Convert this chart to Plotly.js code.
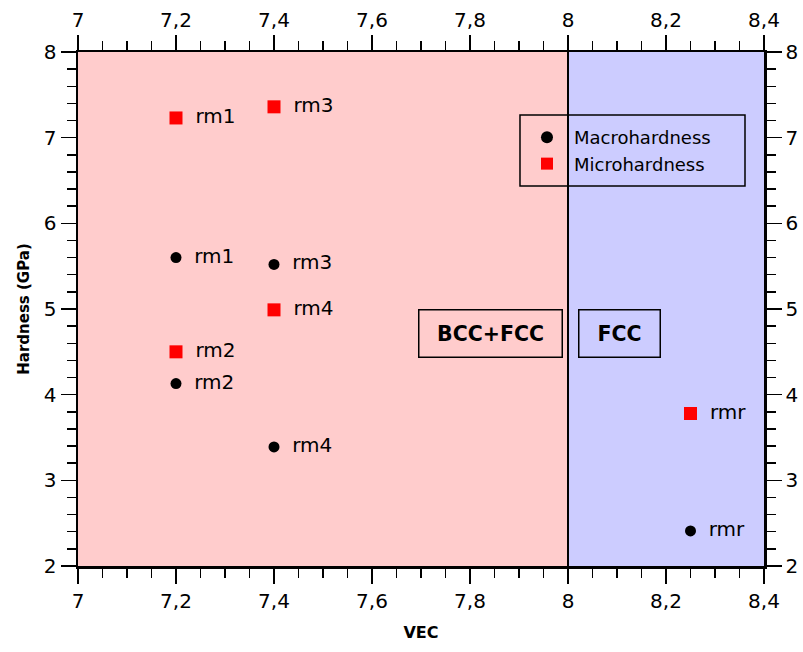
<!DOCTYPE html>
<html>
<head>
<meta charset="utf-8">
<script src="https://cdn.plot.ly/plotly-3.0.1.min.js"></script>
<style>body{margin:0;background:#fff;} #chart{width:803px;height:652px;}</style>
</head>
<body>
<div id="chart"></div>
<script>
const macroVEC = [7.2, 7.2, 7.4, 7.4, 8.25];
const macroHardness = [5.6, 4.13, 5.52, 3.39, 2.41];
const macroLabels = ["rm1", "rm2", "rm3", "rm4", "rmr"];

const microVEC = [7.2, 7.2, 7.4, 7.4, 8.25];
const microHardness = [7.23, 4.5, 7.36, 4.99, 3.78];
const microLabels = ["rm1", "rm2", "rm3", "rm4", "rmr"];

const xTickVals = [7, 7.2, 7.4, 7.6, 7.8, 8, 8.2, 8.4];
const yTickVals = [2, 3, 4, 5, 6, 7, 8];

const FONT = "DejaVu Sans, Verdana, sans-serif";
const NB = "\u00A0";
const TS = "\u2009";

const traces = [
  {
    x: macroVEC, y: macroHardness, text: macroLabels,
    type: "scatter", mode: "markers+text", name: "Macrohardness",
    marker: {symbol: "circle", size: 11, color: "#000"},
    texttemplate: NB + TS + "%{text}",
    textposition: "middle right",
    textfont: {family: FONT, size: 20, color: "#000"},
    cliponaxis: false
  },
  {
    x: microVEC, y: microHardness, text: microLabels,
    type: "scatter", mode: "markers+text", name: "Microhardness",
    marker: {symbol: "square", size: 13, color: "#ff0000"},
    texttemplate: NB + TS + "%{text}",
    textposition: "middle right",
    textfont: {family: FONT, size: 20, color: "#000"},
    cliponaxis: false
  },
  {x: [7], y: [2], xaxis: "x2", yaxis: "y2", mode: "markers", marker: {opacity: 0}, showlegend: false, hoverinfo: "skip"}
];

const axisCommon = {
  showgrid: false, zeroline: false, showline: true, linecolor: "#000", linewidth: 2.5,
  ticks: "outside", ticklen: 15, tickwidth: 1.5, tickcolor: "#000",
  tickfont: {family: FONT, size: 20, color: "#000"}
};
const minorX = {dtick: 0.05, ticks: "outside", ticklen: 9, tickwidth: 1.5, tickcolor: "#000", showgrid: false};
const minorY = {dtick: 0.2, ticks: "outside", ticklen: 9, tickwidth: 1.5, tickcolor: "#000", showgrid: false};

const layout = {
  width: 803, height: 652,
  margin: {l: 78, r: 39, t: 52, b: 86},
  paper_bgcolor: "#fff", plot_bgcolor: "#fff",
  separators: ",.",
  showlegend: true,
  legend: {
    x: 0.6443, y: 0.8696, xanchor: "left", yanchor: "top",
    bgcolor: "rgba(0,0,0,0)", borderwidth: 0,
    font: {family: FONT, size: 18, color: "#000"},
    tracegroupgap: 0, itemsizing: "constant", itemwidth: 44
  },
  xaxis: Object.assign({}, axisCommon, {
    range: [7, 8.4], tickvals: xTickVals, minor: minorX,
    title: {text: "VEC", font: {family: FONT, size: 16, color: "#000", weight: "bold"}, standoff: 16}
  }),
  yaxis: Object.assign({}, axisCommon, {
    range: [2, 8], tickvals: yTickVals, minor: minorY,
    title: {text: "Hardness (GPa)", font: {family: FONT, size: 15, color: "#000", weight: "bold"}, standoff: 11}
  }),
  xaxis2: Object.assign({}, axisCommon, {
    range: [7, 8.4], tickvals: xTickVals, overlaying: "x", side: "top", minor: minorX
  }),
  yaxis2: Object.assign({}, axisCommon, {
    range: [2, 8], tickvals: yTickVals, overlaying: "y", side: "right", minor: minorY
  }),
  shapes: [
    {type: "rect", xref: "x", yref: "y", x0: 7, x1: 8, y0: 2, y1: 8, fillcolor: "#ffcccc", line: {width: 0}, layer: "below"},
    {type: "rect", xref: "x", yref: "y", x0: 8, x1: 8.4, y0: 2, y1: 8, fillcolor: "#ccccff", line: {width: 0}, layer: "below"},
    {type: "line", xref: "x", yref: "y", x0: 8, x1: 8, y0: 2, y1: 8, line: {color: "#000", width: 2}, layer: "below"},
    {type: "rect", xref: "paper", yref: "paper", x0: 0.6443, x1: 0.9723, y0: 0.7393, y1: 0.8774,
     fillcolor: "rgba(0,0,0,0)", line: {color: "#000", width: 1.5}, layer: "above"}
  ],
  annotations: [
    {xref: "x", yref: "y", x: 7.841, y: 4.71, text: "<b>BCC+FCC</b>", showarrow: false,
     font: {family: FONT, size: 20.5, color: "#000"}, bordercolor: "#000", borderwidth: 1.5,
     width: 138, height: 42, borderpad: 2},
    {xref: "x", yref: "y", x: 8.105, y: 4.71, text: "<b>FCC</b>", showarrow: false,
     font: {family: FONT, size: 20.5, color: "#000"}, bordercolor: "#000", borderwidth: 1.5,
     width: 76, height: 42, borderpad: 2}
  ]
};

Plotly.newPlot("chart", traces, layout, {displayModeBar: false, staticPlot: true});
</script>
</body>
</html>
